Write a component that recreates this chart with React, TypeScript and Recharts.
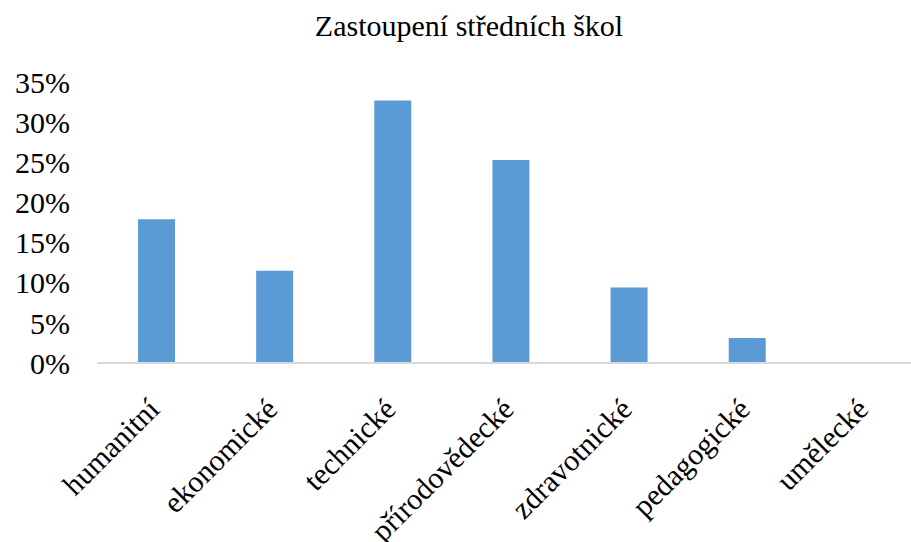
import React from 'react';
import { BarChart, Bar, XAxis, YAxis } from 'recharts';

const categories = ['humanitní', 'ekonomické', 'technické', 'přírodovědecké', 'zdravotnické', 'pedagogické', 'umělecké'];
const shares = [17.9, 11.5, 32.7, 25.3, 9.4, 3.1, 0];
const yTicks = [0, 5, 10, 15, 20, 25, 30, 35];

const chartData = categories.map((name, i) => ({ name, podil: shares[i] }));

const FONT = 'Liberation Serif';

const CategoryTick = (props: any) => {
  const { x, y, payload } = props;
  const ax = x + 5;
  const ay = y + 40;
  return (
    <text
      x={ax}
      y={ay}
      transform={`rotate(-45, ${ax}, ${ay})`}
      textAnchor="end"
      style={{ fontFamily: FONT }}
      fontSize={30}
      fill="#000"
    >
      {payload.value}
    </text>
  );
};

export default function App() {
  return (
    <div style={{ position: 'absolute', left: 0, top: 0, width: 911, height: 542, overflow: 'hidden', background: '#fff', fontFamily: FONT }}>
      <div
        style={{
          position: 'absolute',
          left: 0,
          top: 9,
          width: 938,
          textAlign: 'center',
          fontFamily: FONT,
          fontSize: 30,
          color: '#000',
        }}
      >
        Zastoupení středních škol
      </div>
      <BarChart
        width={930}
        height={542}
        data={chartData}
        margin={{ top: 82, right: 6, left: 0, bottom: 29 }}
        style={{ fontFamily: FONT }}
      >
        <XAxis
          dataKey="name"
          interval={0}
          height={150}
          tickLine={false}
          axisLine={{ stroke: '#d9d9d9', strokeWidth: 2 }}
          tick={<CategoryTick />}
        />
        <YAxis
          width={97}
          domain={[0, 35]}
          ticks={yTicks}
          tickFormatter={(v: number) => `${v}%`}
          axisLine={false}
          tickLine={false}
          tickSize={0}
          tickMargin={27}
          tick={{ fontSize: 30, fill: '#000', style: { fontFamily: FONT } }}
        />
        <Bar dataKey="podil" fill="#5b9bd5" barSize={37} isAnimationActive={false} />
      </BarChart>
    </div>
  );
}
